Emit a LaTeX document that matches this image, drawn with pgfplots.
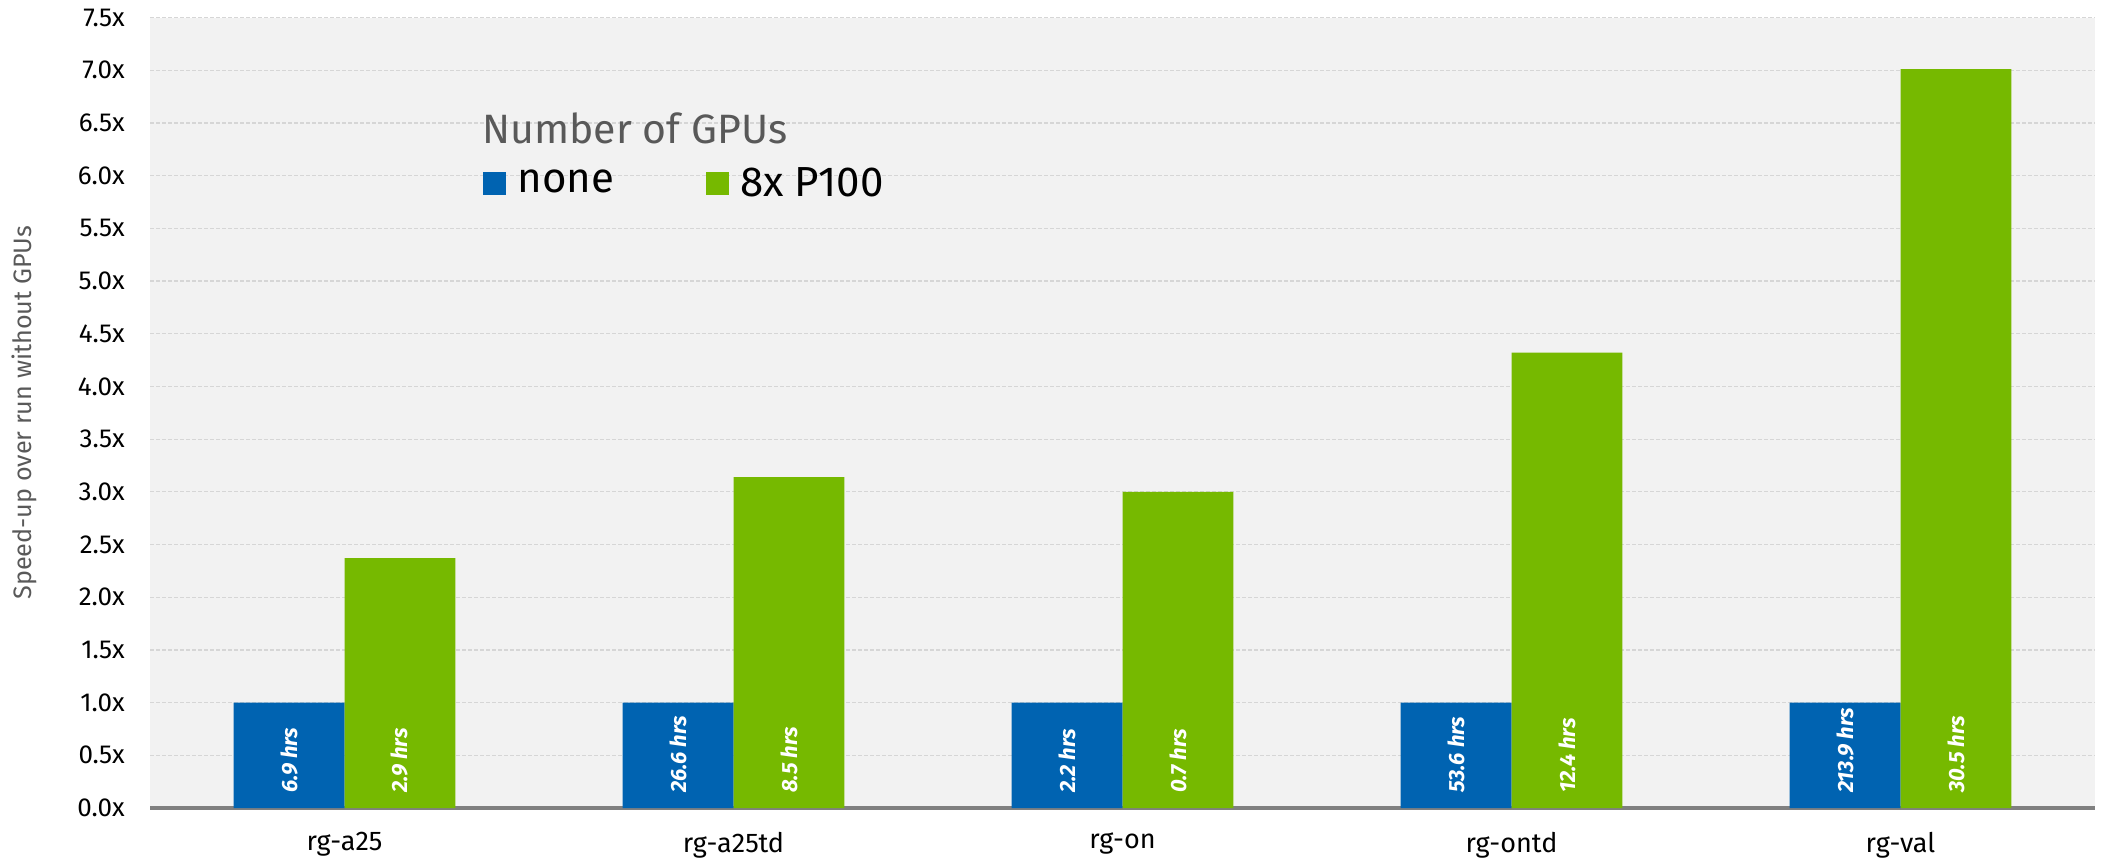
\documentclass[border=0pt]{standalone}
\usepackage{pgfplots}
\usepackage{pgfplotstable}
\pgfplotsset{compat=1.18}
\usepackage{fontspec}
\setmainfont{Fira Sans}

\definecolor{nvblue}{HTML}{0063B1}
\definecolor{nvgreen}{HTML}{76B900}
\definecolor{plotbg}{HTML}{F2F2F2}
\definecolor{gridgray}{HTML}{D6D6D6}
\definecolor{axisgray}{HTML}{808080}
\definecolor{labelgray}{HTML}{595959}

% speed-up over the run without GPUs, and the wall time of each run
\pgfplotstableread{
x none gpu nonelbl gpulbl
0 1 2.37 {6.9 hrs} {2.9 hrs}
1 1 3.14 {26.6 hrs} {8.5 hrs}
2 1 3.00 {2.2 hrs} {0.7 hrs}
3 1 4.32 {53.6 hrs} {12.4 hrs}
4 1 7.01 {213.9 hrs} {30.5 hrs}
}\speedup

\begin{document}
\begin{tikzpicture}
\useasboundingbox (0,0) rectangle (1052.5pt,429pt);
\begin{axis}[
  at={(75pt,25pt)}, anchor=south west,
  scale only axis,
  width=972.5pt, height=395.25pt,
  ybar=0pt, bar width=0.285,
  xmin=-0.5, xmax=4.5,
  ymin=0, ymax=7.5,
  xtick={0,...,4},
  xticklabels={rg-a25,rg-a25td,rg-on,rg-ontd,rg-val},
  ytick={0,0.5,...,7.5},
  yticklabel={\pgfmathprintnumber[fixed,fixed zerofill,precision=1]{\tick}x},
  /pgf/number format/assume math mode=true,
  major tick length=0,
  axis x line*=bottom, axis y line*=left,
  y axis line style={draw=none},
  x axis line style={-, line width=2pt, draw=axisgray},
  axis background/.style={fill=plotbg},
  ymajorgrids,
  major grid style={draw=gridgray, line width=0.6pt, dash pattern=on 2pt off 1pt},
  yticklabel style={inner sep=0pt, xshift=-12.5pt, font=\fontsize{13}{13}\selectfont},
  xticklabel style={inner sep=0pt, anchor=north, yshift=-12pt, font=\fontsize{13.5}{13.5}\selectfont},
  ylabel={Speed-up over run without GPUs},
  ylabel style={at={(axis description cs:-0.0648,0.5)}, anchor=center,
    text=labelgray, font=\fontsize{12.6}{12.6}\selectfont},
  legend style={at={(rel axis cs:0.1712,0.7906)}, anchor=west, draw=none, fill=none,
    inner sep=0pt, font=\fontsize{21}{21}\selectfont, legend columns=2,
    /tikz/every odd column/.append style={column sep=5.5pt},
    /tikz/every even column/.append style={column sep=46pt},
    nodes={inner sep=0pt}},
  legend image code/.code={\fill[#1] (0pt,-5.75pt) rectangle (11.5pt,5.75pt);},
  legend cell align=left,
  nodes near coords,
  point meta=explicit symbolic,
  visualization depends on={y \as \rawy},
  nodes near coords style={shift={(axis direction cs:0,-\rawy+0.14)},
    rotate=90, anchor=west, inner sep=0pt, text=white,
    font=\fontsize{11}{11}\selectfont\bfseries\itshape},
]
\addplot[fill=nvblue, draw=none] table[x=x, y=none, meta=nonelbl] {\speedup};
\addplot[fill=nvgreen, draw=none] table[x=x, y=gpu, meta=gpulbl] {\speedup};
\legend{none, 8x P100}
\node[anchor=base west, inner sep=0pt, text=labelgray, font=\fontsize{20.5}{20.5}\selectfont]
  at (rel axis cs:0.1707,0.841) {Number of GPUs};
\end{axis}
\end{tikzpicture}
\end{document}
